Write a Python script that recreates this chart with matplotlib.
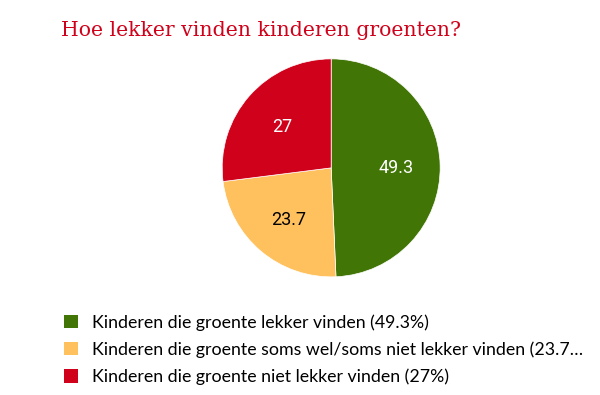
import matplotlib.pyplot as plt

categorieen = ['Kinderen die groente lekker vinden',
               'Kinderen die groente soms wel/soms niet lekker vinden',
               'Kinderen die groente niet lekker vinden']
waarden = [49.3, 23.7, 27]
legenda_teksten = ['Kinderen die groente lekker vinden (49.3%)',
                   'Kinderen die groente soms wel/soms niet lekker vinden (23.7\u2026',
                   'Kinderen die groente niet lekker vinden (27%)']
kleuren = ['#417505', '#FFC15E', '#D0021B']
tekstkleuren = ['white', 'black', 'white']

fig = plt.figure(figsize=(6, 3.95), dpi=100)
ax = fig.add_axes([0.552 - 0.1817, 0.575 - 0.276, 0.3633, 0.552])

wedges, teksten = ax.pie(waarden, colors=kleuren, startangle=90, counterclock=False,
                         labels=[str(w) if w % 1 else str(int(w)) for w in waarden],
                         labeldistance=0.6,
                         wedgeprops={'linewidth': 0.5, 'edgecolor': 'white'},
                         textprops={'fontsize': 13, 'family': 'Roboto'})
for t, c in zip(teksten, tekstkleuren):
    t.set_color(c)
    t.set_horizontalalignment('center')
    t.set_verticalalignment('center_baseline')
ax.set_xlim(-1, 1)
ax.set_ylim(-1, 1)
ax.set_aspect('equal')

fig.text(61 / 600, 1 - 30 / 395, 'Hoe lekker vinden kinderen groenten?', color='#D0021B',
         fontsize=14.7, family='DejaVu Serif', va='center', ha='left')

fig.legend(wedges, legenda_teksten, loc='upper left', bbox_to_anchor=(64 / 600, 1 - 314 / 395),
           frameon=False, handlelength=0.8, handleheight=0.8, handletextpad=0.8,
           labelspacing=0.6, borderpad=0, borderaxespad=0,
           prop={'family': 'Lato', 'size': 12.8})
for h in fig.legends[0].legend_handles:
    h.set_edgecolor('none')

plt.savefig('out.png')
